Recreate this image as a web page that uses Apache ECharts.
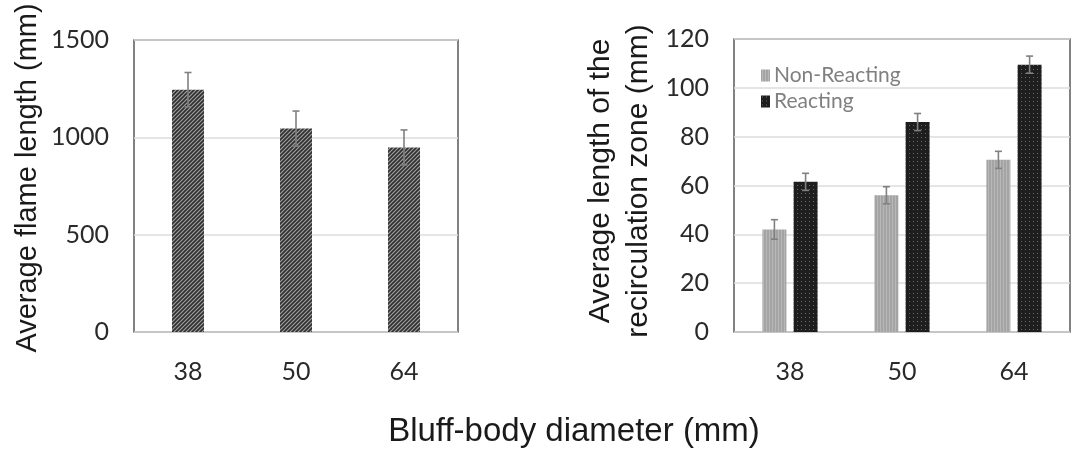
<!DOCTYPE html>
<html><head><meta charset="utf-8">
<script src="https://cdn.jsdelivr.net/npm/echarts@6/dist/echarts.min.js"></script>
<style>html,body{margin:0;padding:0;background:#fff}#c{width:1079px;height:455px}</style>
</head><body><div id="c"></div>
<script>
// ---- data ----
const categories = ['38', '50', '64'];
const flameLength = [1245, 1045, 948];
const flameErr = [88, 90, 90];
const nonReacting = [42, 56, 70.5];
const nonReactingErr = [4, 3.5, 3.5];
const reacting = [61.5, 86, 109.5];
const reactingErr = [3.5, 3.5, 3.5];
const seriesNames = ['Non-Reacting', 'Reacting'];
const leftTicks = { min: 0, max: 1500, interval: 500 };
const rightTicks = { min: 0, max: 120, interval: 20 };
const leftName = 'Average flame length (mm)';
const rightName = 'Average length of the\nrecirculation zone (mm)';
const xName = 'Bluff-body diameter (mm)';

// ---- patterns ----
function tile(w, h, draw) {
  const c = document.createElement('canvas'); c.width = w; c.height = h;
  draw(c.getContext('2d')); return c;
}
const hatch = tile(4, 4, g => {
  g.fillStyle = '#a0a0a0'; g.fillRect(0, 0, 4, 4);
  g.strokeStyle = '#2e2e2e'; g.lineWidth = 1.6;
  g.beginPath(); g.moveTo(-1, 5); g.lineTo(5, -1); g.stroke();
  g.beginPath(); g.moveTo(-1, 1); g.lineTo(1, -1); g.stroke();
  g.beginPath(); g.moveTo(3, 5); g.lineTo(5, 3); g.stroke();
});
const dots = tile(4, 4, g => {
  g.fillStyle = '#1e1e1e'; g.fillRect(0, 0, 4, 4);
  g.fillStyle = '#6a6a6a'; g.fillRect(1, 1, 1, 1);
});
const stripes = tile(3, 2, g => {
  g.fillStyle = '#a4a4a4'; g.fillRect(0, 0, 3, 2);
  g.fillStyle = '#b8b8b8'; g.fillRect(1, 0, 1, 2);
});

const LBW = 32, RBW = 24, RGAP = 0.3;
function errBar(offset) {
  return function (params, api) {
    const i = api.value(0), v = api.value(1), e = api.value(2);
    const t = api.coord([i, v + e]), b = api.coord([i, v - e]);
    const x = t[0] + offset;
    const st = { stroke: '#808080', lineWidth: 1.6 };
    return { type: 'group', children: [
      { type: 'line', shape: { x1: x, y1: t[1], x2: x, y2: b[1] }, style: st },
      { type: 'line', shape: { x1: x - 3.5, y1: t[1], x2: x + 3.5, y2: t[1] }, style: st },
      { type: 'line', shape: { x1: x - 3.5, y1: b[1], x2: x + 3.5, y2: b[1] }, style: st }
    ]};
  };
}
const off = (RBW * (1 + RGAP)) / 2;

const tickFont = { fontFamily: 'Lato', fontSize: 25, color: '#2a2a2a' };
const gridCommon = { show: true, borderColor: '#5a5a5a', borderWidth: 1.5, backgroundColor: '#fff' };

const chart = echarts.init(document.getElementById('c'), null, { renderer: 'canvas' });
chart.setOption({
  animation: false,
  backgroundColor: '#fff',
  grid: [
    Object.assign({ left: 134, top: 40, width: 324, height: 292 }, gridCommon),
    Object.assign({ left: 734, top: 39, width: 336, height: 293 }, gridCommon)
  ],
  legend: {
    data: seriesNames, orient: 'vertical', left: 756, top: 60,
    itemWidth: 9, itemHeight: 12, itemGap: 5, icon: 'rect',
    textStyle: { fontFamily: 'Lato', fontSize: 21, color: '#808080', padding: [0, 0, 0, -1] }
  },
  xAxis: [0, 1].map(k => ({
    type: 'category', gridIndex: k, data: categories,
    axisLine: { show: false }, axisTick: { show: false },
    axisLabel: Object.assign({ margin: 27 }, tickFont)
  })),
  yAxis: [
    Object.assign({ type: 'value', gridIndex: 0 }, leftTicks),
    Object.assign({ type: 'value', gridIndex: 1 }, rightTicks)
  ].map(a => Object.assign(a, {
    axisLine: { show: false }, axisTick: { show: false },
    axisLabel: Object.assign({ margin: 25, formatter: v => String(v) }, tickFont),
    splitLine: { lineStyle: { color: '#dcdcdc', width: 1.5 } }
  })),
  graphic: [
    { type: 'text', x: 574, y: 432,
      style: { text: xName, fontFamily: 'Liberation Sans', fontSize: 33,
        fill: '#1a1a1a', align: 'center', verticalAlign: 'middle' } },
    { type: 'text', x: 28, y: 178, rotation: Math.PI / 2,
      style: { text: leftName, fontFamily: 'Liberation Sans', fontSize: 29,
        fill: '#1a1a1a', align: 'center', verticalAlign: 'middle' } },
    { type: 'text', x: 620, y: 181, rotation: Math.PI / 2,
      style: { text: rightName, fontFamily: 'Liberation Sans', fontSize: 30, lineHeight: 38,
        fill: '#1a1a1a', align: 'center', verticalAlign: 'middle' } }
  ],
  series: [
    { type: 'bar', name: 'flame', xAxisIndex: 0, yAxisIndex: 0, barWidth: LBW, data: flameLength,
      itemStyle: { color: { image: hatch, repeat: 'repeat' } } },
    { type: 'custom', xAxisIndex: 0, yAxisIndex: 0, z: 5, renderItem: errBar(0),
      data: flameLength.map((v, i) => [i, v, flameErr[i]]) },
    { type: 'bar', name: seriesNames[0], xAxisIndex: 1, yAxisIndex: 1, barWidth: RBW, barGap: (RGAP * 100) + '%',
      data: nonReacting, itemStyle: { color: { image: stripes, repeat: 'repeat' } } },
    { type: 'bar', name: seriesNames[1], xAxisIndex: 1, yAxisIndex: 1, barWidth: RBW, barGap: (RGAP * 100) + '%',
      data: reacting, itemStyle: { color: { image: dots, repeat: 'repeat' } } },
    { type: 'custom', xAxisIndex: 1, yAxisIndex: 1, z: 5, renderItem: errBar(-off),
      data: nonReacting.map((v, i) => [i, v, nonReactingErr[i]]) },
    { type: 'custom', xAxisIndex: 1, yAxisIndex: 1, z: 5, renderItem: errBar(off),
      data: reacting.map((v, i) => [i, v, reactingErr[i]]) }
  ]
});
</script></body></html>
